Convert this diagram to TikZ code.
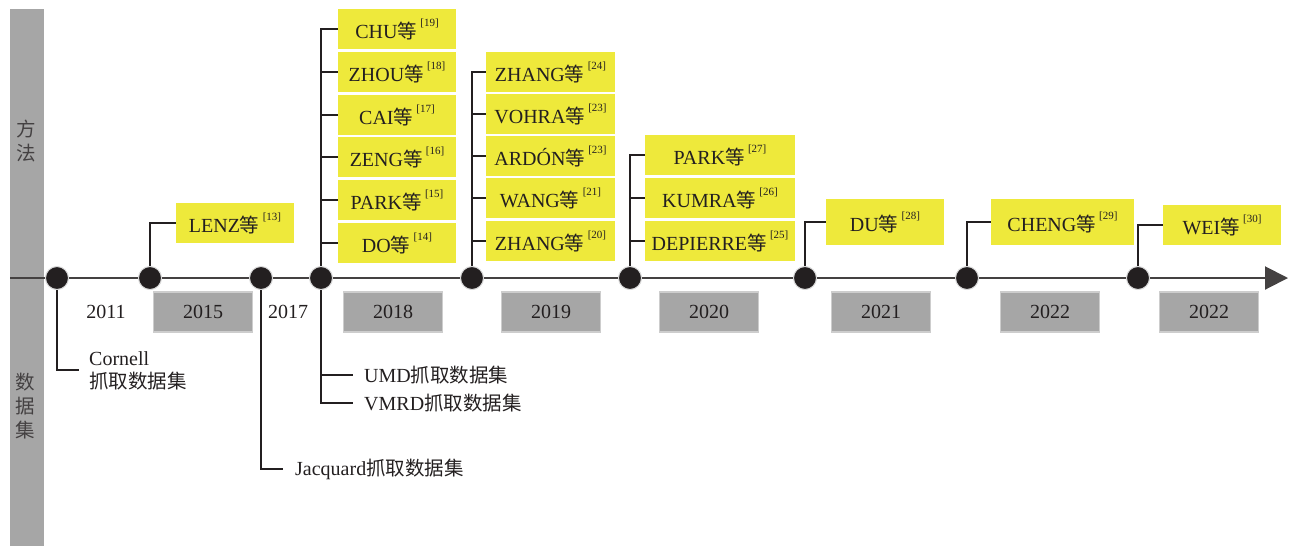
\documentclass[tikz,border=0pt]{standalone}
\usepackage{fontspec}
\setmainfont{Liberation Serif}
\newfontfamily\cjk{Noto Sans CJK SC}
\usetikzlibrary{arrows.meta,backgrounds}
\definecolor{ybox}{RGB}{238,233,59}
\definecolor{gbox}{RGB}{166,166,166}
\definecolor{gedge}{RGB}{205,205,205}
\definecolor{ink}{RGB}{35,31,32}
\newcommand{\dg}{{\cjk\fontsize{19.5}{19.5}\selectfont 等}}
\newcommand{\rf}[1]{\,\raisebox{0.6em}{\fontsize{11}{11}\selectfont[#1]}}
\newcommand{\zh}[1]{{\cjk\fontsize{19.5}{19.5}\selectfont #1}}
\begin{document}
\begin{tikzpicture}[x=1pt,y=-1pt,
  txt/.style={font=\fontsize{20}{23}\selectfont, text=ink},
  yb/.style={txt, fill=ybox, minimum height=40pt, inner sep=0pt},
  yr/.style={txt, fill=gbox, draw=gedge, line width=1.2pt, minimum width=99pt, minimum height=40pt, inner sep=0pt},
  dot/.style={circle, fill=ink, draw=gray!30, line width=1pt, minimum size=23pt, inner sep=0pt},
  conn/.style={draw=ink, line width=1.8pt},
  lbl/.style={txt, anchor=west, inner sep=0pt, align=left},
  bartxt/.style={font=\fontsize{20}{24}\selectfont, text=ink!85, align=center, inner sep=0pt}
]
\useasboundingbox (0,0) rectangle (1290,547);

% dots
\node[dot] (d2011) at (57,278) {};
\node[dot] (d2015) at (150,278) {};
\node[dot] (d2017) at (261,278) {};
\node[dot] (d2018) at (321,278) {};
\node[dot] (d2019) at (472,278) {};
\node[dot] (d2020) at (630,278) {};
\node[dot] (d2021) at (805,278) {};
\node[dot] (d2022a) at (967,278) {};
\node[dot] (d2022b) at (1138,278) {};

% method boxes
\node[yb, minimum width=118pt] (lenz) at (235,223) {LENZ\dg\rf{13}};

\node[yb, minimum width=118pt] (chu) at (397,29) {CHU\dg\rf{19}};
\node[yb, minimum width=118pt] (zhou) at (397,72) {ZHOU\dg\rf{18}};
\node[yb, minimum width=118pt] (cai) at (397,115) {CAI\dg\rf{17}};
\node[yb, minimum width=118pt] (zeng) at (397,157) {ZENG\dg\rf{16}};
\node[yb, minimum width=118pt] (park15) at (397,200) {PARK\dg\rf{15}};
\node[yb, minimum width=118pt] (do) at (397,243) {DO\dg\rf{14}};

\node[yb, minimum width=129pt] (zhang24) at (550.5,72) {ZHANG\dg\rf{24}};
\node[yb, minimum width=129pt] (vohra) at (550.5,114) {VOHRA\dg\rf{23}};
\node[yb, minimum width=129pt] (ardon) at (550.5,156) {ARDÓN\dg\rf{23}};
\node[yb, minimum width=129pt] (wang) at (550.5,198) {WANG\dg\rf{21}};
\node[yb, minimum width=129pt] (zhang20) at (550.5,241) {ZHANG\dg\rf{20}};

\node[yb, minimum width=150pt] (park27) at (720,155) {PARK\dg\rf{27}};
\node[yb, minimum width=150pt] (kumra) at (720,198) {KUMRA\dg\rf{26}};
\node[yb, minimum width=150pt] (depierre) at (720,241) {DEPIERRE\dg\rf{25}};

\node[yb, minimum width=118pt, minimum height=46pt] (du) at (885,222) {DU\dg\rf{28}};
\node[yb, minimum width=143pt, minimum height=46pt] (cheng) at (1062.5,222) {CHENG\dg\rf{29}};
\node[yb, minimum width=118pt] (wei) at (1222,225) {WEI\dg\rf{30}};

% years
\node[txt] (y2011) at (106,312) {2011};
\node[yr] (y2015) at (203,312) {2015};
\node[txt] (y2017) at (288,312) {2017};
\node[yr] (y2018) at (393,312) {2018};
\node[yr] (y2019) at (551,312) {2019};
\node[yr] (y2020) at (709,312) {2020};
\node[yr] (y2021) at (881,312) {2021};
\node[yr] (y2022a) at (1050,312) {2022};
\node[yr] (y2022b) at (1209,312) {2022};

% datasets
\coordinate (cT) at (79,370);
\coordinate (jT) at (283,469);
\coordinate (uT) at (353,375);
\coordinate (vT) at (353,403);
\node[lbl] (cornell) at (89,371) {Cornell\\\zh{抓取数据集}};
\node[lbl] (jac) at (295,469) {Jacquard\zh{抓取数据集}};
\node[lbl] (umd) at (364,375) {UMD\zh{抓取数据集}};
\node[lbl] (vmrd) at (364,403) {VMRD\zh{抓取数据集}};

% side bar labels
\node[bartxt] (mlab) at (26,141) {\zh{方}\\\zh{法}};
\node[bartxt] (dlab) at (25,406) {\zh{数}\\\zh{据}\\\zh{集}};

\begin{scope}[on background layer]
  \fill[gbox] (10,9) rectangle (44,546);
  \coordinate (tstart) at (10,278);
  \coordinate (tend) at (1288,278);
  \draw[draw=ink!85, line width=2pt, -{Triangle[length=23pt,width=23pt]}] (tstart) -- (tend);

  \draw[conn] (d2015.center) |- (lenz.west);

  \draw[conn] (d2018.center) |- (chu.west);
  \foreach \b in {zhou,cai,zeng,park15,do}
    \draw[conn] (d2018.center |- \b.west) -- (\b.west);

  \draw[conn] (d2019.center) |- (zhang24.west);
  \foreach \b in {vohra,ardon,wang,zhang20}
    \draw[conn] (d2019.center |- \b.west) -- (\b.west);

  \draw[conn] (d2020.center) |- (park27.west);
  \foreach \b in {kumra,depierre}
    \draw[conn] (d2020.center |- \b.west) -- (\b.west);

  \draw[conn] (d2021.center) |- (du.west);
  \draw[conn] (d2022a.center) |- (cheng.west);
  \draw[conn] (d2022b.center) |- (wei.west);

  \draw[conn] (d2011.center) |- (cT);
  \draw[conn] (d2017.center) |- (jT);
  \draw[conn] (d2018.center) |- (vT);
  \draw[conn] (d2018.center |- uT) -- (uT);
\end{scope}
\end{tikzpicture}
\end{document}
